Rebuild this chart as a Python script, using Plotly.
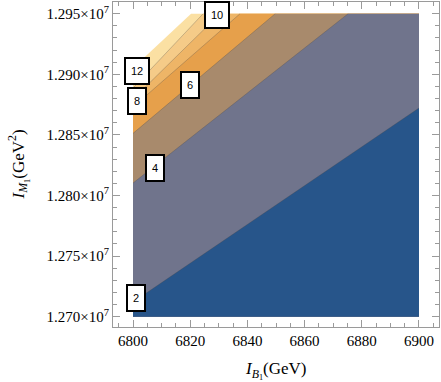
import plotly.graph_objects as go

# ---- data ----
x_lo, x_hi = 6800, 6900
y_lo, y_hi = 1.270e7, 1.295e7

# contour lines (highest first); each starts on the left edge (x=6800)
line_names = ["edge", "12", "10", "8", "6", "4", "2"]
line_left_y = [1.29052e7, 1.28887e7, 1.28796e7, 1.28730e7, 1.28513e7, 1.28103e7, 1.27121e7]
line_end_x = [6820.3, 6824.5, 6830.4, 6837.4, 6849.7, 6875.2, 6900.0]
line_end_y = [1.295e7, 1.295e7, 1.295e7, 1.295e7, 1.295e7, 1.295e7, 1.28722e7]
band_colors = ["#FBE0A3", "#F5CB88", "#EEB567", "#E6A04B", "#A88A6C", "#70748C", "#27558A"]

label_text = ["2", "4", "6", "8", "10", "12"]
label_x = [6801.0, 6807.7, 6819.9, 6801.4, 6829.4, 6801.4]
label_y = [1.27154e7, 1.28227e7, 1.28912e7, 1.28780e7, 1.29490e7, 1.29027e7]

x_ticks = [6800, 6820, 6840, 6860, 6880, 6900]
y_ticks = [1.270e7, 1.275e7, 1.280e7, 1.285e7, 1.290e7, 1.295e7]
y_tick_text = ["1.270×10<sup>7</sup>", "1.275×10<sup>7</sup>", "1.280×10<sup>7</sup>",
               "1.285×10<sup>7</sup>", "1.290×10<sup>7</sup>", "1.295×10<sup>7</sup>"]

fig = go.Figure()

# filled region below each contour line, drawn from highest to lowest
for name, yl, xe, ye, col in zip(line_names, line_left_y, line_end_x, line_end_y, band_colors):
    if ye >= y_hi:
        xs = [x_lo, x_hi, x_hi, xe, x_lo, x_lo]
        ys = [y_lo, y_lo, y_hi, y_hi, yl, y_lo]
    else:
        xs = [x_lo, x_hi, xe, x_lo, x_lo]
        ys = [y_lo, y_lo, ye, yl, y_lo]
    fig.add_trace(go.Scatter(x=xs, y=ys, mode="lines", fill="toself", fillcolor=col,
                             line=dict(width=0), hoverinfo="skip", showlegend=False))

# thin contour lines
for name, yl, xe, ye in zip(line_names, line_left_y, line_end_x, line_end_y):
    if name == "edge":
        continue
    fig.add_trace(go.Scatter(x=[x_lo, xe], y=[yl, ye], mode="lines",
                             line=dict(width=0.8, color="rgba(70,70,70,0.35)"),
                             hoverinfo="skip", showlegend=False))

for t, lx, ly in zip(label_text, label_x, label_y):
    fig.add_annotation(x=lx, y=ly, text=t, showarrow=False,
                       font=dict(family="Liberation Sans", size=11, color="black"),
                       bgcolor="white", bordercolor="black", borderwidth=2, borderpad=2,
                       width=12 if len(t) == 1 else 18, height=20)

serif = "Liberation Serif"
fig.add_annotation(xref="paper", yref="paper", x=0.5, y=0, yshift=-43, yanchor="middle",
                   xanchor="center",
                   text="<i>I</i><sub><i>B</i><sub>1</sub></sub>(GeV)", showarrow=False,
                   font=dict(family=serif, size=17, color="black"))
fig.add_annotation(xref="paper", yref="paper", x=0, y=0.5, xshift=-95, textangle=-90,
                   xanchor="center", yanchor="middle",
                   text="<i>I</i><sub><i>M</i><sub>1</sub></sub>(GeV<sup>2</sup>)", showarrow=False,
                   font=dict(family=serif, size=17, color="black"))

axis_common = dict(showgrid=False, zeroline=False, showline=True, mirror="allticks",
                   linecolor="#9a9a9a", linewidth=1, ticks="inside", ticklen=7,
                   tickcolor="#9a9a9a", tickfont=dict(family=serif, size=15, color="black"))
fig.update_xaxes(range=[6793.0, 6907.0], tickvals=x_ticks,
                 minor=dict(tickmode="linear", tick0=6800, dtick=5, ticks="inside",
                            ticklen=4, tickcolor="#9a9a9a"), **axis_common)
fig.update_yaxes(range=[1.26915e7, 1.29597e7], tickvals=y_ticks, ticktext=y_tick_text,
                 minor=dict(tickmode="linear", tick0=1.27e7, dtick=10000, ticks="inside",
                            ticklen=4, tickcolor="#9a9a9a"), **axis_common)

fig.update_layout(width=441, height=382, margin=dict(l=113, r=2, t=2, b=55),
                  plot_bgcolor="white", paper_bgcolor="white", showlegend=False)

fig.write_html("out.html", config={"displayModeBar": False, "staticPlot": True},
               post_script="document.body.style.margin='0';document.body.style.overflow='hidden';")
